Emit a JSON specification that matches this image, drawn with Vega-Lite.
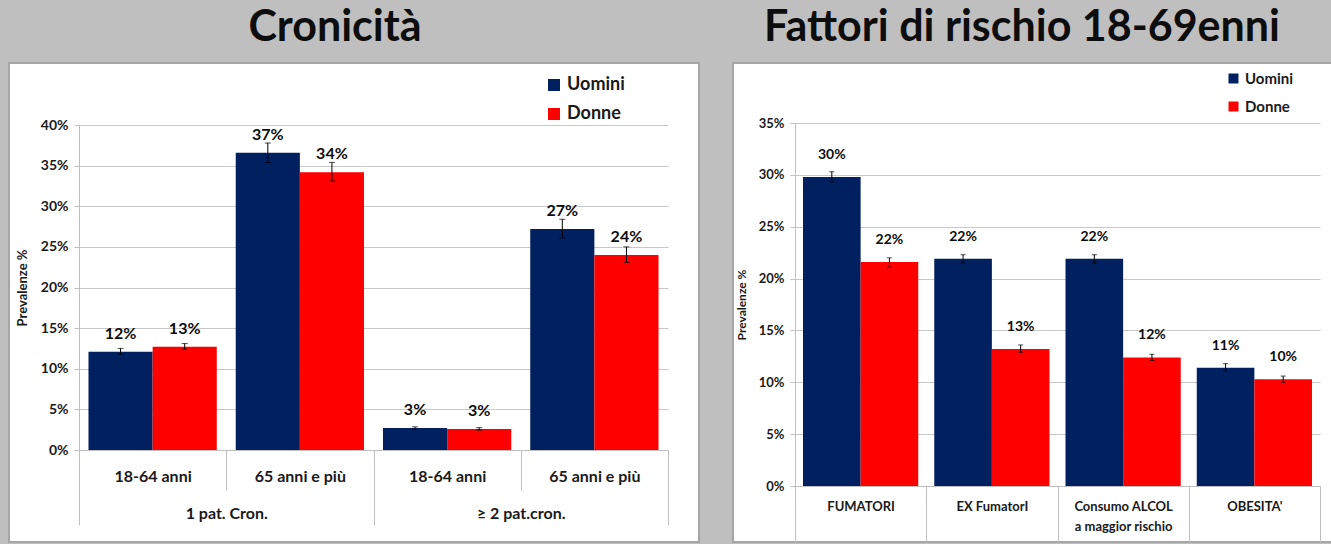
{
  "$schema": "https://vega.github.io/schema/vega-lite/v6.json",
  "background": "#bfbfbf",
  "padding": {"left": 8, "top": 6, "right": 0, "bottom": 0},
  "spacing": 32,
  "config": {
    "view": {"fill": "white", "stroke": "#a6a6a6", "strokeWidth": 2},
    "font": "Lato",
    "axis": {
      "labelFont": "Lato", "titleFont": "Lato", "labelColor": "#1a1a1a", "titleColor": "#1a1a1a",
      "labelFontWeight": "bold", "titleFontWeight": "bold",
      "domainColor": "#bfbfbf", "tickColor": "#bfbfbf", "gridColor": "#c8c8c8", "labelOverlap": false
    },
    "legend": {"labelFont": "Lato", "labelFontWeight": "bold", "labelColor": "#1a1a1a", "symbolType": "square", "symbolStrokeWidth": 0},
    "title": {"font": "Lato", "fontWeight": "bold", "color": "#0d0d0d", "anchor": "middle"}
  },
  "datasets": {
    "cron": [
      {"grp": "1 pat. Cron.", "cat": "1 pat. Cron.|18-64 anni", "sex": "Uomini", "v": 0.121, "lo": 0.118, "hi": 0.125},
      {"grp": "1 pat. Cron.", "cat": "1 pat. Cron.|18-64 anni", "sex": "Donne", "v": 0.127, "lo": 0.124, "hi": 0.131},
      {"grp": "1 pat. Cron.", "cat": "1 pat. Cron.|65 anni e più", "sex": "Uomini", "v": 0.366, "lo": 0.354, "hi": 0.378},
      {"grp": "1 pat. Cron.", "cat": "1 pat. Cron.|65 anni e più", "sex": "Donne", "v": 0.342, "lo": 0.331, "hi": 0.354},
      {"grp": "≥ 2 pat.cron.", "cat": "≥ 2 pat.cron.|18-64 anni", "sex": "Uomini", "v": 0.027, "lo": 0.0255, "hi": 0.0285},
      {"grp": "≥ 2 pat.cron.", "cat": "≥ 2 pat.cron.|18-64 anni", "sex": "Donne", "v": 0.026, "lo": 0.0245, "hi": 0.0275},
      {"grp": "≥ 2 pat.cron.", "cat": "≥ 2 pat.cron.|65 anni e più", "sex": "Uomini", "v": 0.272, "lo": 0.261, "hi": 0.284},
      {"grp": "≥ 2 pat.cron.", "cat": "≥ 2 pat.cron.|65 anni e più", "sex": "Donne", "v": 0.240, "lo": 0.231, "hi": 0.250}
    ],
    "fatt": [
      {"cat": "FUMATORI", "sex": "Uomini", "v": 0.298, "lo": 0.293, "hi": 0.303},
      {"cat": "FUMATORI", "sex": "Donne", "v": 0.216, "lo": 0.211, "hi": 0.220},
      {"cat": "EX FumatorI", "sex": "Uomini", "v": 0.219, "lo": 0.215, "hi": 0.223},
      {"cat": "EX FumatorI", "sex": "Donne", "v": 0.132, "lo": 0.129, "hi": 0.136},
      {"cat": "Consumo ALCOL|a maggior rischio", "sex": "Uomini", "v": 0.219, "lo": 0.215, "hi": 0.223},
      {"cat": "Consumo ALCOL|a maggior rischio", "sex": "Donne", "v": 0.124, "lo": 0.121, "hi": 0.127},
      {"cat": "OBESITA'", "sex": "Uomini", "v": 0.114, "lo": 0.111, "hi": 0.118},
      {"cat": "OBESITA'", "sex": "Donne", "v": 0.103, "lo": 0.100, "hi": 0.106}
    ]
  },
  "hconcat": [
    {
      "width": 690,
      "height": 479,
      "title": {"text": "Cronicità", "fontSize": 43, "dx": -19, "offset": 13},
      "data": {"name": "cron"},
      "layer": [
        {
          "mark": {"type": "rule", "opacity": 0},
          "encoding": {
            "x": {
              "field": "grp", "type": "nominal", "sort": ["1 pat. Cron.", "≥ 2 pat.cron."],
              "scale": {"range": [70, 659], "paddingInner": 0, "paddingOuter": 0},
              "axis": {"orient": "bottom", "offset": -92, "title": null, "tickBand": "extent", "tickSize": 75,
                       "labelPadding": -20, "labelFontSize": 16, "domain": false, "labelAngle": 0, "grid": false}
            }
          }
        },
        {
          "encoding": {
            "x": {
              "field": "cat", "type": "nominal", "sort": null,
              "scale": {"range": [70, 659], "paddingInner": 0, "paddingOuter": 0},
              "axis": {"orient": "bottom", "offset": -92, "title": null, "tickBand": "extent", "tickSize": 40,
                       "labelPadding": -22, "labelFontSize": 16, "labelAngle": 0, "grid": false,
                       "labelExpr": "split(datum.label, '|')[1]"}
            },
            "xOffset": {"field": "sex", "type": "nominal", "sort": ["Uomini", "Donne"], "scale": {"paddingInner": 0, "paddingOuter": 0.148}}
          },
          "layer": [
            {
              "mark": {"type": "bar"},
              "encoding": {
                "y": {"field": "v", "type": "quantitative", "title": "Prevalenze %",
                      "scale": {"domain": [0, 0.4], "range": [387, 62], "nice": false},
                      "axis": {"format": ".0%", "values": [0, 0.05, 0.1, 0.15, 0.2, 0.25, 0.3, 0.35, 0.4], "offset": -70,
                               "grid": true, "tickSize": 5, "labelFontSize": 14, "labelPadding": 6,
                               "titleFontSize": 13, "titlePadding": 11}},
                "color": {
                  "field": "sex", "type": "nominal",
                  "scale": {"domain": ["Uomini", "Donne"], "range": ["#002060", "#ff0000"]},
                  "legend": {"title": null, "orient": "none", "legendX": 536, "legendY": 13, "symbolSize": 144,
                             "labelFontSize": 18, "rowPadding": 11}
                }
              }
            },
            {
              "mark": {"type": "rule", "color": "#000000", "strokeWidth": 1},
              "encoding": {
                "y": {"field": "lo", "type": "quantitative", "title": "Prevalenze %"},
                "y2": {"field": "hi"}
              }
            },
            {
              "mark": {"type": "tick", "color": "#000000", "size": 6, "thickness": 1},
              "encoding": {"y": {"field": "lo", "type": "quantitative", "title": "Prevalenze %"}}
            },
            {
              "mark": {"type": "tick", "color": "#000000", "size": 6, "thickness": 1},
              "encoding": {"y": {"field": "hi", "type": "quantitative", "title": "Prevalenze %"}}
            },
            {
              "mark": {"type": "text", "dy": -18, "fontSize": 16, "fontWeight": "bold", "font": "Lato", "color": "#0d0d0d"},
              "encoding": {
                "y": {"field": "v", "type": "quantitative", "title": "Prevalenze %"},
                "text": {"field": "v", "format": ".0%"}
              }
            }
          ]
        }
      ],
      "resolve": {"scale": {"x": "independent", "y": "independent"}, "axis": {"x": "independent", "y": "independent"}}
    },
    {
      "width": 602,
      "height": 479,
      "title": {"text": "Fattori di rischio 18-69enni", "fontSize": 43, "dx": -12, "offset": 13},
      "data": {"name": "fatt"},
      "encoding": {
        "x": {
          "field": "cat", "type": "nominal", "sort": null,
          "scale": {"range": [62, 587], "paddingInner": 0, "paddingOuter": 0},
          "axis": {"orient": "bottom", "offset": -56, "title": null, "tickBand": "extent", "tickSize": 56,
                   "labelPadding": -42, "labelFontSize": 13, "labelAngle": 0, "grid": false, "labelLineHeight": 20,
                   "labelExpr": "split(datum.label, '|')"}
        },
        "xOffset": {"field": "sex", "type": "nominal", "sort": ["Uomini", "Donne"], "scale": {"paddingInner": 0, "paddingOuter": 0.139}}
      },
      "layer": [
        {
          "mark": {"type": "bar"},
          "encoding": {
            "y": {"field": "v", "type": "quantitative", "title": "Prevalenze %",
                  "scale": {"domain": [0, 0.35], "range": [423, 60], "nice": false},
                  "axis": {"format": ".0%", "values": [0, 0.05, 0.1, 0.15, 0.2, 0.25, 0.3, 0.35], "offset": -62,
                           "grid": true, "tickSize": 5, "labelFontSize": 13, "labelPadding": 6,
                           "titleFontSize": 12, "titlePadding": 10}},
            "color": {
              "field": "sex", "type": "nominal",
              "scale": {"domain": ["Uomini", "Donne"], "range": ["#002060", "#ff0000"]},
              "legend": {"title": null, "orient": "none", "legendX": 493, "legendY": 8, "symbolSize": 100,
                         "labelFontSize": 15, "rowPadding": 12}
            }
          }
        },
        {
          "mark": {"type": "rule", "color": "#000000", "strokeWidth": 1},
          "encoding": {
            "y": {"field": "lo", "type": "quantitative", "title": "Prevalenze %"},
            "y2": {"field": "hi"}
          }
        },
        {
          "mark": {"type": "tick", "color": "#000000", "size": 5, "thickness": 1},
          "encoding": {"y": {"field": "lo", "type": "quantitative", "title": "Prevalenze %"}}
        },
        {
          "mark": {"type": "tick", "color": "#000000", "size": 5, "thickness": 1},
          "encoding": {"y": {"field": "hi", "type": "quantitative", "title": "Prevalenze %"}}
        },
        {
          "mark": {"type": "text", "dy": -22, "fontSize": 14, "fontWeight": "bold", "font": "Lato", "color": "#0d0d0d"},
          "encoding": {
            "y": {"field": "v", "type": "quantitative", "title": "Prevalenze %"},
            "text": {"field": "v", "format": ".0%"}
          }
        }
      ]
    }
  ],
  "resolve": {
    "scale": {"color": "independent", "y": "independent", "x": "independent", "xOffset": "independent"},
    "legend": {"color": "independent"}
  }
}
